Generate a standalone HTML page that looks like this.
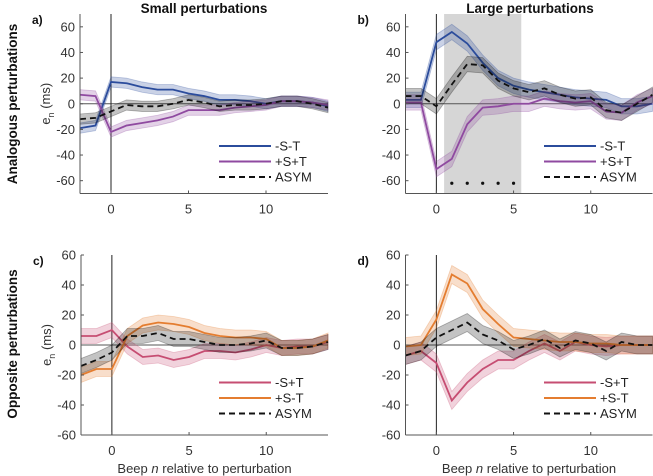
<!DOCTYPE html>
<html><head><meta charset="utf-8"><style>
body{margin:0;background:#fff;}
svg{display:block;font-family:"Liberation Sans",Arial,sans-serif;}
</style></head><body>
<svg id="fig" width="653" height="476" viewBox="0 0 653 476"></svg>
<script>
const beeps = [-2,-1,0,1,2,3,4,5,6,7,8,9,10,11,12,13,14];
const xTicks = [0,5,10];
const yTicks = [-60,-40,-20,0,20,40,60];
const aMST = [-19,-17,17,16,13,11,11,8,6,3,3,2,0,2,2,1,-2];
const aPSPT = [7,6,-22,-17,-15,-13,-10,-5,-5,-5,-3,-2,-1,2,2,1,-1];
const aASYM = [-12,-11,-6,-1,-2,-2,0,3,1,-2,-1,-1,0,2,2,0,-3];
const bMST = [3,3,48,56,47,32,20,14,11,9,7,5,4,3,-2,-2,0];
const bPSPT = [1,1,-51,-43,-16,-3,-2,0,0,4,2,1,2,-6,-7,1,6];
const bASYM = [6,6,-2,15,31,30,18,12,9,12,7,4,5,-5,-7,0,7];
const bSig = [1,2,3,4,5];
const cMSPT = [6,6,10,-1,-8,-7,-10,-8,-4,-4,-5,-3,0,-2,-1,-1,2];
const cPSMT = [-20,-16,-16,6,13,15,14,12,8,6,5,5,4,-2,-2,-1,3];
const cASYM = [-14,-10,-5,6,6,8,4,4,2,0,0,1,3,-2,-2,-1,2];
const dMSPT = [-7,-4,-12,-37,-25,-16,-10,-10,-4,1,-4,2,0,-1,0,0,0];
const dPSMT = [-1,0,17,47,41,24,14,5,4,3,2,2,1,1,0,0,0];
const dASYM = [-7,-4,5,10,15,7,3,-3,0,4,-2,3,1,-4,2,0,0];
const bandW = {a:4,b:6,c:5,d:6};

const NS="http://www.w3.org/2000/svg";
const svg=document.getElementById('fig');
function mk(tag,attrs,parent){const e=document.createElementNS(NS,tag);for(const k in attrs)e.setAttribute(k,attrs[k]);(parent||svg).appendChild(e);return e;}
function txt(x,y,s,attrs,parent){const t=mk('text',Object.assign({x:x,y:y},attrs||{}),parent);t.textContent=s;return t;}

function panel(p){
  const g=mk('g',{});
  
  
  const X=v=>p.x0+(v-(-2))*(p.x1-p.x0)/16;
  const Y=v=>p.yb-(v-p.ymin)*(p.yb-p.yt)/(p.ymax-p.ymin);
  if(p.shade){const r=mk('rect',{x:X(p.shade[0]),y:p.yt,width:X(p.shade[1])-X(p.shade[0]),height:p.yb-p.yt,fill:'#d6d6d6'},g);
    }
  mk('line',{x1:p.x0,x2:p.x1,y1:Y(0),y2:Y(0),stroke:'#555','stroke-width':1},g);
  mk('line',{x1:X(0),x2:X(0),y1:p.yt,y2:p.yb,stroke:'#222','stroke-width':1},g);
  p.series.forEach(s=>{
    const w=bandW[p.id];
    let up=beeps.map((b,i)=>X(b)+','+Y(s.v[i]+w)).join(' ');
    let dn=beeps.map((b,i)=>X(b)+','+Y(s.v[i]-w)).reverse().join(' ');
    const band=mk('polygon',{points:up+' '+dn,fill:s.c,'fill-opacity':0.25,stroke:s.c,'stroke-opacity':0.3,'stroke-width':0.8},g);
    
    const ln=mk('polyline',{points:beeps.map((b,i)=>X(b)+','+Y(s.v[i])).join(' '),fill:'none',stroke:s.c,'stroke-width':1.8,'stroke-dasharray':s.d?'6,4':'none'},g);
    
  });
  if(p.sig){p.sig.forEach(b=>{const c=mk('circle',{cx:X(b),cy:Y(-62),r:1.6,fill:'#111'},g);
    });}
  mk('line',{x1:p.x0,x2:p.x0,y1:p.yt,y2:p.yb,stroke:'#555','stroke-width':1},g);
  mk('line',{x1:p.x0,x2:p.x1,y1:p.yb,y2:p.yb,stroke:'#555','stroke-width':1},g);
  yTicks.forEach(t=>{mk('line',{x1:p.x0,x2:p.x0+3,y1:Y(t),y2:Y(t),stroke:'#555'},g);
    const l=txt(p.x0-5,Y(t)+4.5,String(t),{'font-size':13,'text-anchor':'end',fill:'#333'},g);
    });
  xTicks.forEach(t=>{mk('line',{x1:X(t),x2:X(t),y1:p.yb,y2:p.yb-3,stroke:'#555'},g);
    const l=txt(X(t),p.yb+20,String(t),{'font-size':13,'text-anchor':'middle',fill:'#333'},g);
    });
  const pl=txt(p.x0-48,p.yt+10,p.id+')',{'font-size':12,'font-weight':'bold',fill:'#111'},g);
  
  if(p.ytitle){
  const ya=txt(0,0,'',{'font-size':13,fill:'#333',transform:'translate('+(p.x0-30)+','+Y(0)+') rotate(-90)','text-anchor':'middle'},g);
  ya.innerHTML='e<tspan font-size="9" dy="4">n</tspan><tspan dy="-4"> (ms)</tspan>';
  }
  if(p.xlabel){const xl=txt((p.x0+p.x1)/2,p.yb+38,'',{'font-size':13,'text-anchor':'middle',fill:'#333'},g);
    xl.innerHTML='Beep <tspan font-style="italic">n</tspan> relative to perturbation';
    }
  p.series.forEach((s,i)=>{const ly=p.ly+i*15.5;
    const lg=mk('g',{},g);
    mk('line',{x1:p.lx,x2:p.lx+52,y1:ly,y2:ly,stroke:s.c,'stroke-width':2,'stroke-dasharray':s.d?'6,4':'none'},lg);
    txt(p.lx+56,ly+4.5,s.n,{'font-size':13,fill:'#222'},lg);});
}
const BL='#2b4c9c',PU='#8f4aa0',PK='#c64d72',OR='#e47d30',BK='#111';
panel({id:'a',x0:80,x1:328,yt:14,yb:193.5,ymin:-70,ymax:70,lx:219,ly:146,ytitle:1,
  series:[{n:'-S-T',v:aMST,c:BL},{n:'+S+T',v:aPSPT,c:PU},{n:'ASYM',v:aASYM,c:BK,d:1}]});
panel({id:'b',x0:405.5,x1:652.5,yt:14,yb:193.5,ymin:-70,ymax:70,lx:544,ly:146,shade:[0.5,5.5],sig:bSig,
  series:[{n:'-S-T',v:bMST,c:BL},{n:'+S+T',v:bPSPT,c:PU},{n:'ASYM',v:bASYM,c:BK,d:1}]});
panel({id:'c',x0:81,x1:328,yt:255,yb:435,ymin:-60,ymax:60,lx:219,ly:382.5,xlabel:1,ytitle:1,
  series:[{n:'-S+T',v:cMSPT,c:PK},{n:'+S-T',v:cPSMT,c:OR},{n:'ASYM',v:cASYM,c:BK,d:1}]});
panel({id:'d',x0:405.5,x1:652.5,yt:255,yb:435,ymin:-60,ymax:60,lx:544,ly:382.5,xlabel:1,
  series:[{n:'-S+T',v:dMSPT,c:PK},{n:'+S-T',v:dPSMT,c:OR},{n:'ASYM',v:dASYM,c:BK,d:1}]});
let t;
t=txt(204,13,'Small perturbations',{'font-size':13.5,'font-weight':'bold','text-anchor':'middle',fill:'#111'});

t=txt(530,13,'Large perturbations',{'font-size':13.5,'font-weight':'bold','text-anchor':'middle',fill:'#111'});

t=txt(0,0,'Analogous perturbations',{'font-size':13.5,'font-weight':'bold','text-anchor':'middle',fill:'#111',transform:'translate(17,104) rotate(-90)'});

t=txt(0,0,'Opposite perturbations',{'font-size':13.5,'font-weight':'bold','text-anchor':'middle',fill:'#111',transform:'translate(17,344) rotate(-90)'});

</script>
</body></html>
